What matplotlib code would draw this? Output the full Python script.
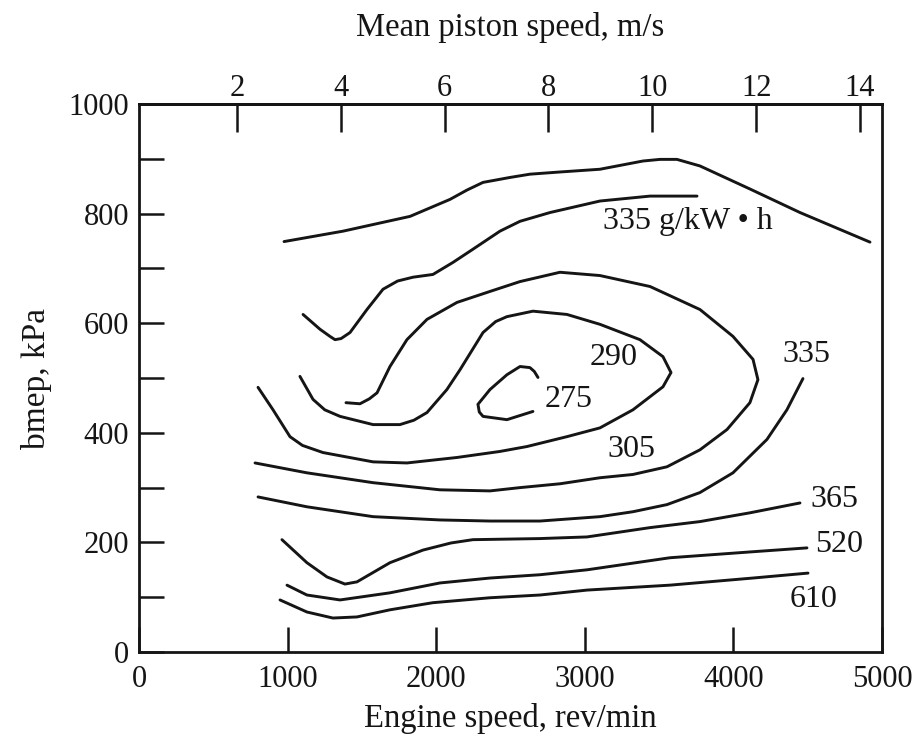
import matplotlib
matplotlib.use('Agg')
import matplotlib.pyplot as plt
import numpy as np

plt.rcParams['font.family'] = ['Liberation Serif', 'DejaVu Serif']

# full-load (wide open throttle) line
wot_rpm = [976, 1373, 1824, 2093, 2207, 2315, 2496, 2631, 2833, 3102, 3237, 3391, 3506, 3620, 3775,
           4111, 4448, 4919]
wot_bmep = [749, 768, 795, 826, 843, 857, 866, 872, 876, 881, 888, 896, 899, 899, 887,
            845, 802, 748]

# bsfc contours, g/kW h
c335u_rpm = [1104, 1218, 1285, 1319, 1360, 1420, 1534, 1642, 1740, 1844, 1978, 2113, 2247, 2429,
             2564, 2766, 3102, 3439, 3755]
c335u_bmep = [616, 589, 576, 570, 572, 583, 625, 662, 677, 684, 689, 711, 735, 768,
              786, 802, 823, 832, 832]

c305_rpm = [1393, 1487, 1550, 1602, 1689, 1803, 1938, 2140, 2362, 2564, 2833, 3102, 3439, 3775,
            3997, 4132, 4165, 4111, 3957, 3775, 3553, 3324, 3102, 2833, 2564, 2362, 2025, 1575,
            1130, 781]
c305_bmep = [455, 453, 462, 473, 521, 570, 607, 638, 658, 676, 693, 687, 667, 625,
             576, 534, 497, 455, 406, 369, 338, 324, 318, 307, 300, 294, 296, 309,
             327, 345]

c290_rpm = [1083, 1171, 1250, 1353, 1575, 1756, 1850, 1938, 2072, 2160, 2315, 2400, 2476, 2651,
            2880, 3102, 3371, 3526, 3580, 3526, 3324, 3102, 2880, 2611, 2429, 2140, 1803, 1575,
            1238, 1100, 1016, 902, 801]
c290_bmep = [503, 461, 442, 430, 415, 415, 423, 437, 479, 515, 583, 603, 612, 622,
             616, 598, 570, 539, 510, 484, 442, 409, 393, 375, 366, 355, 345, 347,
             364, 377, 393, 442, 483]

c275_rpm = [2685, 2660, 2631, 2564, 2476, 2362, 2281, 2290, 2315, 2476, 2651]
c275_bmep = [501, 512, 519, 521, 506, 479, 452, 438, 430, 424, 439]

c335l_rpm = [4468, 4360, 4226, 3997, 3775, 3553, 3324, 3102, 2698, 2362, 2025, 1575, 1130, 801]
c335l_bmep = [499, 442, 388, 327, 291, 269, 256, 247, 239, 239, 241, 247, 265, 283]

c365_rpm = [962, 1130, 1265, 1386, 1467, 1689, 1911, 2100, 2247, 2698, 3015, 3439, 3775, 4111, 4448]
c365_bmep = [205, 163, 137, 124, 128, 163, 186, 199, 205, 207, 210, 227, 238, 254, 272]

c520_rpm = [996, 1130, 1353, 1689, 2025, 2362, 2698, 3015, 3573, 4132, 4495]
c520_bmep = [122, 104, 95, 108, 126, 135, 141, 150, 172, 183, 190]

c610_rpm = [949, 1130, 1305, 1467, 1689, 1978, 2362, 2698, 3015, 3573, 4132, 4502]
c610_bmep = [95, 73, 62, 64, 77, 90, 99, 104, 113, 122, 135, 144]

curves = [(wot_rpm, wot_bmep), (c335u_rpm, c335u_bmep), (c305_rpm, c305_bmep),
          (c290_rpm, c290_bmep), (c275_rpm, c275_bmep), (c335l_rpm, c335l_bmep),
          (c365_rpm, c365_bmep), (c520_rpm, c520_bmep), (c610_rpm, c610_bmep)]

# contour labels: text, rpm (left edge), bmep
label_text = ['335 g/kW \u2022 h', '290', '275', '305', '335', '365', '520', '610']
label_rpm = [3122, 3035, 2732, 3149, 4333, 4515, 4549, 4381]
label_bmep = [786, 537, 461, 369, 543, 278, 196, 95]

ink = '#151515'

fig = plt.figure(figsize=(9.18, 7.49), dpi=100)
ax = fig.add_axes([0.1514, 0.1295, 0.8094, 0.7316])

for rpm, bmep in curves:
    ax.plot(rpm, bmep, color=ink, lw=2.1, solid_joinstyle='round', solid_capstyle='round')

for t, x, y in zip(label_text, label_rpm, label_bmep):
    ax.text(x, y, t, fontsize=23, color=ink, ha='left', va='center')

ax.set_xlim(0, 5000)
ax.set_ylim(0, 1000)
ax.set_xticks(np.arange(0, 5001, 1000))
ax.set_yticks(np.arange(0, 1001, 100))
ax.set_yticklabels([str(v) if v % 200 == 0 else '' for v in range(0, 1001, 100)])
ax.tick_params(axis='both', direction='in', length=18, width=1.8, labelsize=22,
               colors=ink, top=False, right=False)
ax.tick_params(axis='x', pad=9)
ax.tick_params(axis='y', pad=7)
for s in ax.spines.values():
    s.set_linewidth(2.0)
    s.set_color(ink)

# top axis: mean piston speed
sec = ax.secondary_xaxis('top', functions=(lambda n: n * 0.002862 + 0.114,
                                           lambda v: (v - 0.114) / 0.002862))
sec.set_xticks(np.arange(2, 15, 2))
sec.tick_params(direction='in', length=20, width=1.8, labelsize=22, colors=ink, pad=1)
sec.spines['top'].set_linewidth(2.0)
sec.set_xlabel('Mean piston speed, m/s', fontsize=23.5, color=ink, labelpad=27)

ax.set_xlabel('Engine speed, rev/min', fontsize=23.5, color=ink, labelpad=7)
ax.set_ylabel('bmep, kPa', fontsize=24, color=ink, labelpad=12)

fig.savefig('out.png', dpi=100, facecolor='white')
